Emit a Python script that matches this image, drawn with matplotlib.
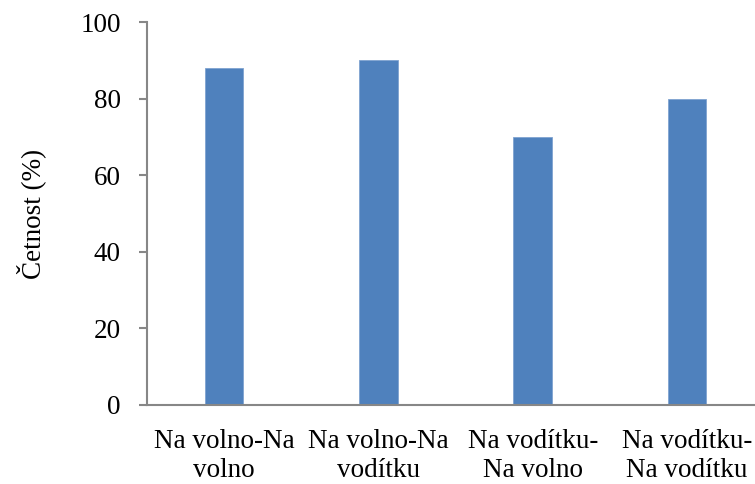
import matplotlib
matplotlib.use("Agg")
import matplotlib.pyplot as plt

categories = ["Na volno-Na\nvolno", "Na volno-Na\nvodítku", "Na vodítku-\nNa volno", "Na vodítku-\nNa vodítku"]
values = [88, 90, 70, 80]
yticks = [0, 20, 40, 60, 80, 100]

plt.rcParams['font.family'] = ['Liberation Serif', 'DejaVu Serif']

fig = plt.figure(figsize=(7.55, 4.84), dpi=100)
ax = fig.add_axes([147/755, 79/484, 608/755, 383/484])

x = list(range(len(categories)))
ax.bar(x, values, width=0.25, color='#4F81BD', edgecolor='#7FA3D0', linewidth=0.6)

ax.set_xlim(-0.5, -0.5 + 608/154.3)
ax.set_ylim(0, 100)
ax.set_yticks(yticks)
ax.set_yticklabels([str(t) for t in yticks], fontsize=19.5)
ax.set_xticks(x)
ax.set_xticklabels(categories, fontsize=19.5, linespacing=1.25)

gray = '#878787'
for s in ['top', 'right']:
    ax.spines[s].set_visible(False)
for s in ['left', 'bottom']:
    ax.spines[s].set_color(gray)
    ax.spines[s].set_linewidth(1.5)

ax.tick_params(axis='y', length=6, width=1.5, color=gray, pad=13, direction='out')
ax.tick_params(axis='x', length=0, pad=17)

ax.set_ylabel("Četnost (%)", fontsize=19.5)
ax.yaxis.set_label_coords(-101/608, 0.5)

fig.savefig("out.png", dpi=100)
